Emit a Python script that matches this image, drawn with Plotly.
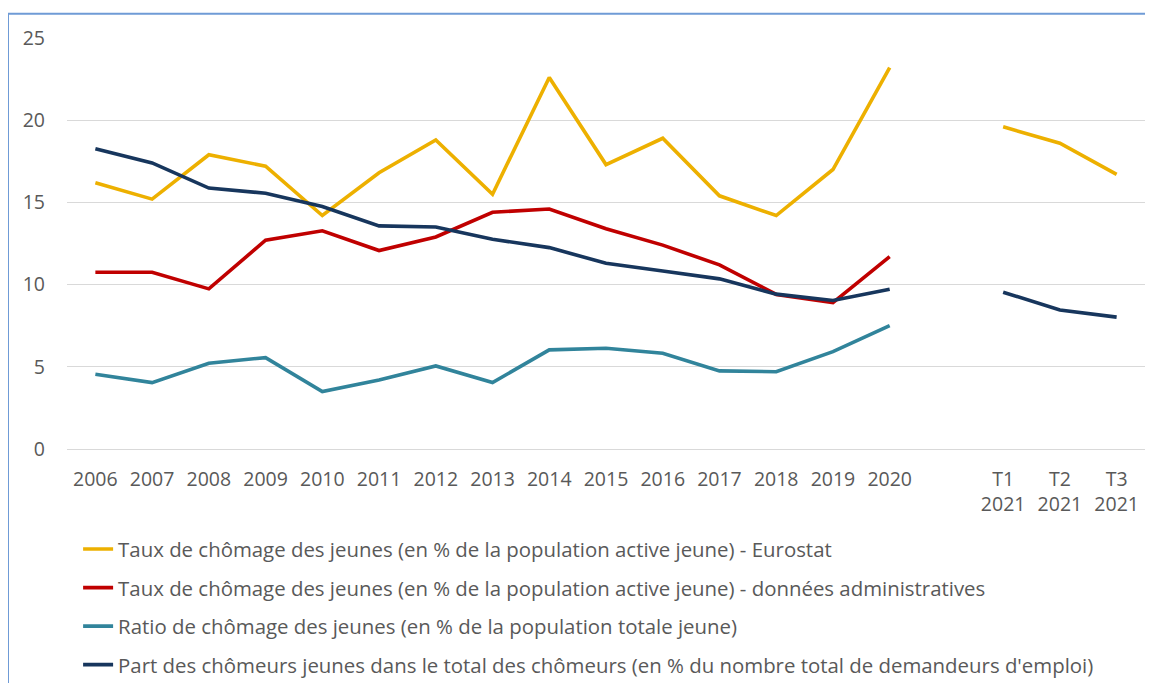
import plotly.graph_objects as go

categories = ["2006", "2007", "2008", "2009", "2010", "2011", "2012", "2013", "2014",
              "2015", "2016", "2017", "2018", "2019", "2020", " ", "T1<br>2021", "T2<br>2021", "T3<br>2021"]

eurostat = [16.2, 15.2, 17.9, 17.2, 14.2, 16.8, 18.8, 15.5, 22.6, 17.3, 18.9, 15.4, 14.2, 17.0, 23.2,
            None, 19.6, 18.6, 16.7]
admin = [10.75, 10.75, 9.74, 12.7, 13.27, 12.07, 12.9, 14.4, 14.6, 13.4, 12.4, 11.2, 9.4, 8.9, 11.7,
         None, None, None, None]
ratio = [4.55, 4.04, 5.22, 5.56, 3.49, 4.2, 5.05, 4.04, 6.03, 6.13, 5.82, 4.75, 4.7, 5.92, 7.5,
         None, None, None, None]
part = [18.26, 17.4, 15.87, 15.56, 14.75, 13.57, 13.5, 12.76, 12.25, 11.3, 10.83, 10.35, 9.42, 9.03, 9.72,
        None, 9.54, 8.46, 8.02]

names = [
    "Taux de chômage des jeunes (en % de la population active jeune) - Eurostat",
    "Taux de chômage des jeunes (en % de la population active jeune) - données administratives",
    "Ratio de chômage des jeunes (en % de la population totale jeune)",
    "Part des chômeurs jeunes dans le total des chômeurs (en % du nombre total de demandeurs d'emploi)",
]
colors = ["#EDB000", "#C00000", "#31849B", "#17365D"]
series = [eurostat, admin, ratio, part]

FONT = "Open Sans"
TXT = "#595959"

fig = go.Figure()
for i, (nm, col, ys) in enumerate(zip(names, colors, series)):
    fig.add_trace(go.Scatter(
        x=categories, y=ys, name=nm, mode="lines",
        line=dict(color=col, width=3.6),
        connectgaps=False, legendgroup=f"g{i}",
    ))

bx0 = -59 / 1078
by1 = (441 - 5.7) / 411
border = dict(color="#6F9BD6", width=2)

fig.update_layout(
    width=1137, height=675,
    margin=dict(l=59, r=0, t=30, b=234, autoexpand=False),
    paper_bgcolor="white", plot_bgcolor="white",
    font=dict(family=FONT, color=TXT, size=18),
    showlegend=True,
    legend=dict(
        x=0.0103, y=-0.1954, xanchor="left", yanchor="top",
        traceorder="grouped", tracegroupgap=9,
        font=dict(family=FONT, color=TXT, size=20.4),
        bgcolor="rgba(0,0,0,0)",
    ),
    xaxis=dict(
        type="category", categoryorder="array", categoryarray=categories,
        range=[-0.5, len(categories) - 0.5],
        showgrid=False, zeroline=False, showline=False, ticks="",
        tickfont=dict(family=FONT, color=TXT, size=19.5),
        ticklabelstandoff=16,
    ),
    yaxis=dict(
        range=[0, 25], dtick=5, tick0=0,
        showgrid=True, gridcolor="#D9D9D9", gridwidth=1.3,
        zeroline=True, zerolinecolor="#D9D9D9", zerolinewidth=1.3,
        showline=False, ticks="",
        tickfont=dict(family=FONT, color=TXT, size=19.5),
        ticklabelstandoff=21,
    ),
    shapes=[
        dict(type="line", xref="paper", yref="paper", x0=bx0, x1=bx0, y0=-1.0, y1=by1,
             line=border, layer="below"),
        dict(type="line", xref="paper", yref="paper", x0=bx0, x1=1.1, y0=by1, y1=by1,
             line=border, layer="below"),
    ],
)

fig.write_html("out.html")
